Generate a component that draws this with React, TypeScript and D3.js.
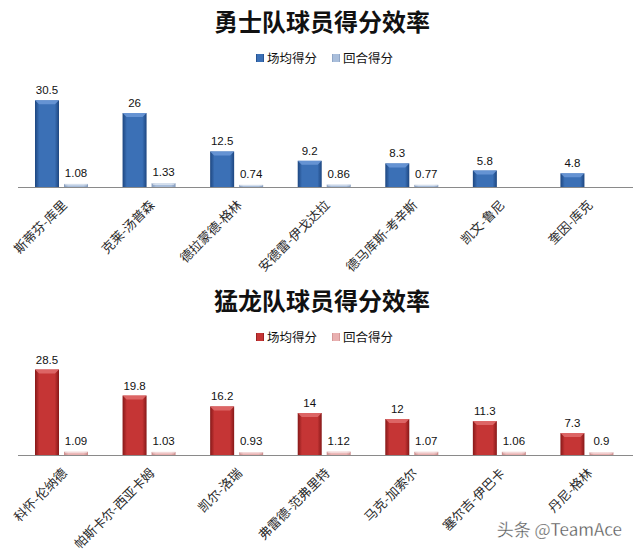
import React from "react";
import * as d3 from "d3";

const W = 638;
const H = 553;

const warriorsTitle = "勇士队球员得分效率";
const warriorsPlayers = ["斯蒂芬-库里", "克莱-汤普森", "德拉蒙德-格林", "安德雷-伊戈达拉", "德马库斯-考辛斯", "凯文-鲁尼", "奎因-库克"];
const warriorsPPG = [30.5, 26, 12.5, 9.2, 8.3, 5.8, 4.8];
const warriorsPPP: (number | null)[] = [1.08, 1.33, 0.74, 0.86, 0.77, null, null];

const raptorsTitle = "猛龙队球员得分效率";
const raptorsPlayers = ["科怀-伦纳德", "帕斯卡尔-西亚卡姆", "凯尔-洛瑞", "弗雷德-范弗里特", "马克-加索尔", "塞尔吉-伊巴卡", "丹尼-格林"];
const raptorsPPG = [28.5, 19.8, 16.2, 14, 12, 11.3, 7.3];
const raptorsPPP: (number | null)[] = [1.09, 1.03, 0.93, 1.12, 1.07, 1.06, 0.9];

const seriesNames = ["场均得分", "回合得分"];

type Theme = {
  id: string;
  edge: string;
  mid: string;
  bevel: string;
  light: string;
  lightEdge: string;
};

const blue: Theme = { id: "b", edge: "#1d4680", mid: "#3b70b6", bevel: "#6a97d6", light: "#a9bedb", lightEdge: "#8299bb" };
const red: Theme = { id: "r", edge: "#861818", mid: "#c53535", bevel: "#df6a6a", light: "#e9b0b0", lightEdge: "#c98a8a" };

const CJK = "'Noto Sans CJK SC', 'Noto Sans', sans-serif";
const NUM = "'Liberation Sans', 'DejaVu Sans', sans-serif";

function Bar({ x, y, w, h, t, main }: { x: number; y: number; w: number; h: number; t: Theme; main: boolean }) {
  const bev = Math.min(4, h / 2, w / 4);
  return (
    <g>
      <rect x={x} y={y} width={w} height={h} fill={`url(#${t.id}${main ? "m" : "l"})`} />
      <polygon
        points={`${x},${y} ${x + w},${y} ${x + w - bev},${y + bev} ${x + bev},${y + bev}`}
        fill={main ? t.bevel : "#ffffff"}
        opacity={main ? 0.9 : 0.5}
      />
    </g>
  );
}

function Panel({ top, title, players, ppg, ppp, t, yMax, axisY, plotH }: {
  top: number; title: string; players: string[]; ppg: number[]; ppp: (number | null)[]; t: Theme; yMax: number; axisY: number; plotH: number;
}) {
  const x0 = d3.scaleBand<string>().domain(players).range([20, 633]).paddingInner(0).paddingOuter(0);
  const y = d3.scaleLinear().domain([0, yMax]).range([axisY, axisY - plotH]);
  const bw = 24;
  const gw = x0.bandwidth();
  return (
    <g>
      <text x={322} y={top + 31} textAnchor="middle" fontFamily={CJK} fontWeight="bold" fontSize={24} fill="#111">
        {title}
      </text>
      <g transform={`translate(0, ${top + 58})`} fontFamily={CJK} fontSize={12.5} fill="#111">
        <rect x={256} y={-4} width={8} height={8} fill={`url(#${t.id}m)`} />
        <text x={267} y={4.5}>{seriesNames[0]}</text>
        <rect x={332} y={-4} width={8} height={8} fill={`url(#${t.id}l)`} />
        <text x={343} y={4.5}>{seriesNames[1]}</text>
      </g>
      {players.map((p, i) => {
        const gx = x0(p)!;
        const v1 = ppg[i];
        const v2 = ppp[i];
        const b1x = gx + 15;
        const b2x = gx + 44;
        return (
          <g key={p}>
            <Bar x={b1x} y={y(v1)} w={bw} h={axisY - y(v1)} t={t} main />
            <text x={b1x + bw / 2} y={y(v1) - 6} textAnchor="middle" fontFamily={NUM} fontSize={11.5} fill="#111">
              {v1}
            </text>
            {v2 != null && (
              <>
                <Bar x={b2x} y={y(v2)} w={bw} h={axisY - y(v2)} t={t} main={false} />
                <text x={b2x + bw / 2} y={y(v2) - 7} textAnchor="middle" fontFamily={NUM} fontSize={11.5} fill="#111">
                  {v2}
                </text>
              </>
            )}
            <text
              transform={`translate(${gx + gw / 2 + 4}, ${axisY + 19}) rotate(-45)`}
              textAnchor="end"
              fontFamily={CJK}
              fontSize={12.8}
              fill="#2a2a2a"
            >
              {p}
            </text>
          </g>
        );
      })}
      <line x1={18} x2={633} y1={axisY + 0.5} y2={axisY + 0.5} stroke="#8a8a8a" strokeWidth={1.2} />
    </g>
  );
}

function Grad({ id, edge, mid }: { id: string; edge: string; mid: string }) {
  return (
    <linearGradient id={id} x1="0" x2="1" y1="0" y2="0">
      <stop offset="0" stopColor={edge} />
      <stop offset="0.18" stopColor={mid} />
      <stop offset="0.82" stopColor={mid} />
      <stop offset="1" stopColor={edge} />
    </linearGradient>
  );
}

export default function App() {
  return (
    <svg width={W} height={H} style={{ position: "absolute", left: 0, top: 0, background: "#fff" }}>
      <defs>
        <Grad id="bm" edge={blue.edge} mid={blue.mid} />
        <Grad id="bl" edge={blue.lightEdge} mid={blue.light} />
        <Grad id="rm" edge={red.edge} mid={red.mid} />
        <Grad id="rl" edge={red.lightEdge} mid={red.light} />
      </defs>
      <rect width={W} height={H} fill="#fff" />
      <Panel top={0} title={warriorsTitle} players={warriorsPlayers} ppg={warriorsPPG} ppp={warriorsPPP} t={blue} yMax={35} axisY={187} plotH={99.5} />
      <Panel top={279} title={raptorsTitle} players={raptorsPlayers} ppg={raptorsPPG} ppp={raptorsPPP} t={red} yMax={30} axisY={455} plotH={90} />
      <text x={622} y={536} textAnchor="end" fontFamily={CJK} fontSize={17} fill="#555" stroke="#fff" strokeWidth={0.3}>
        头条 @TeamAce
      </text>
    </svg>
  );
}
